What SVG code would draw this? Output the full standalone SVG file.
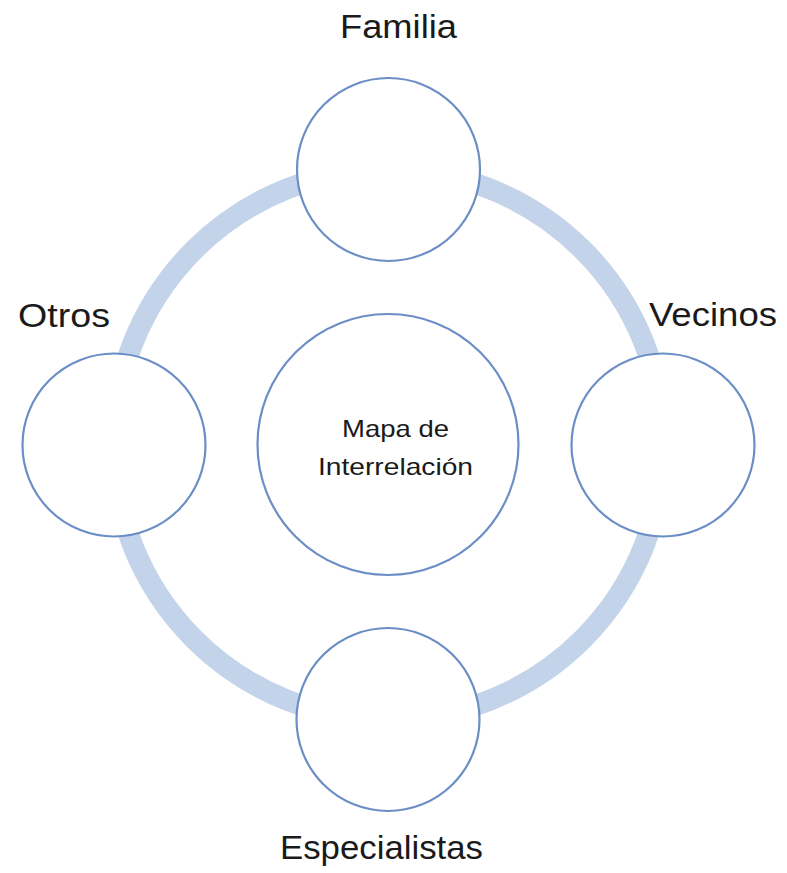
<svg xmlns="http://www.w3.org/2000/svg" width="787" height="873" viewBox="0 0 787 873">
<style>
.node{fill:#fff;stroke:#6C8EC6;stroke-width:2.2}
.ring{fill:none;stroke:#C3D3E9;stroke-width:21}
.lbl{font-family:"Liberation Sans",Arial,sans-serif;font-size:34px;fill:#1a1a1a;text-anchor:middle}
.ctr{font-family:"Liberation Sans",Arial,sans-serif;font-size:24px;fill:#1a1a1a;text-anchor:middle}
</style>
<rect width="787" height="873" fill="#fff"/>
<g id="connectors">
<circle class="ring" cx="388.5" cy="444.5" r="275"/>
</g>
<g id="center">
<circle class="node" cx="388" cy="444.5" r="130.5"/>
<text class="ctr" x="395.5" y="437" textLength="107" lengthAdjust="spacingAndGlyphs">Mapa de</text>
<text class="ctr" x="395.5" y="475" textLength="155" lengthAdjust="spacingAndGlyphs">Interrelación</text>
</g>
<g id="familia">
<circle class="node" cx="388.5" cy="169.5" r="91.5"/>
<text class="lbl" x="398.5" y="38" textLength="117" lengthAdjust="spacingAndGlyphs">Familia</text>
</g>
<g id="vecinos">
<circle class="node" cx="663" cy="445" r="91.5"/>
<text class="lbl" x="713" y="326" textLength="128" lengthAdjust="spacingAndGlyphs">Vecinos</text>
</g>
<g id="especialistas">
<circle class="node" cx="388" cy="719.5" r="91.5"/>
<text class="lbl" x="381.5" y="859" textLength="203" lengthAdjust="spacingAndGlyphs">Especialistas</text>
</g>
<g id="otros">
<circle class="node" cx="114" cy="445" r="91.5"/>
<text class="lbl" x="64" y="327" textLength="92" lengthAdjust="spacingAndGlyphs">Otros</text>
</g>
</svg>
